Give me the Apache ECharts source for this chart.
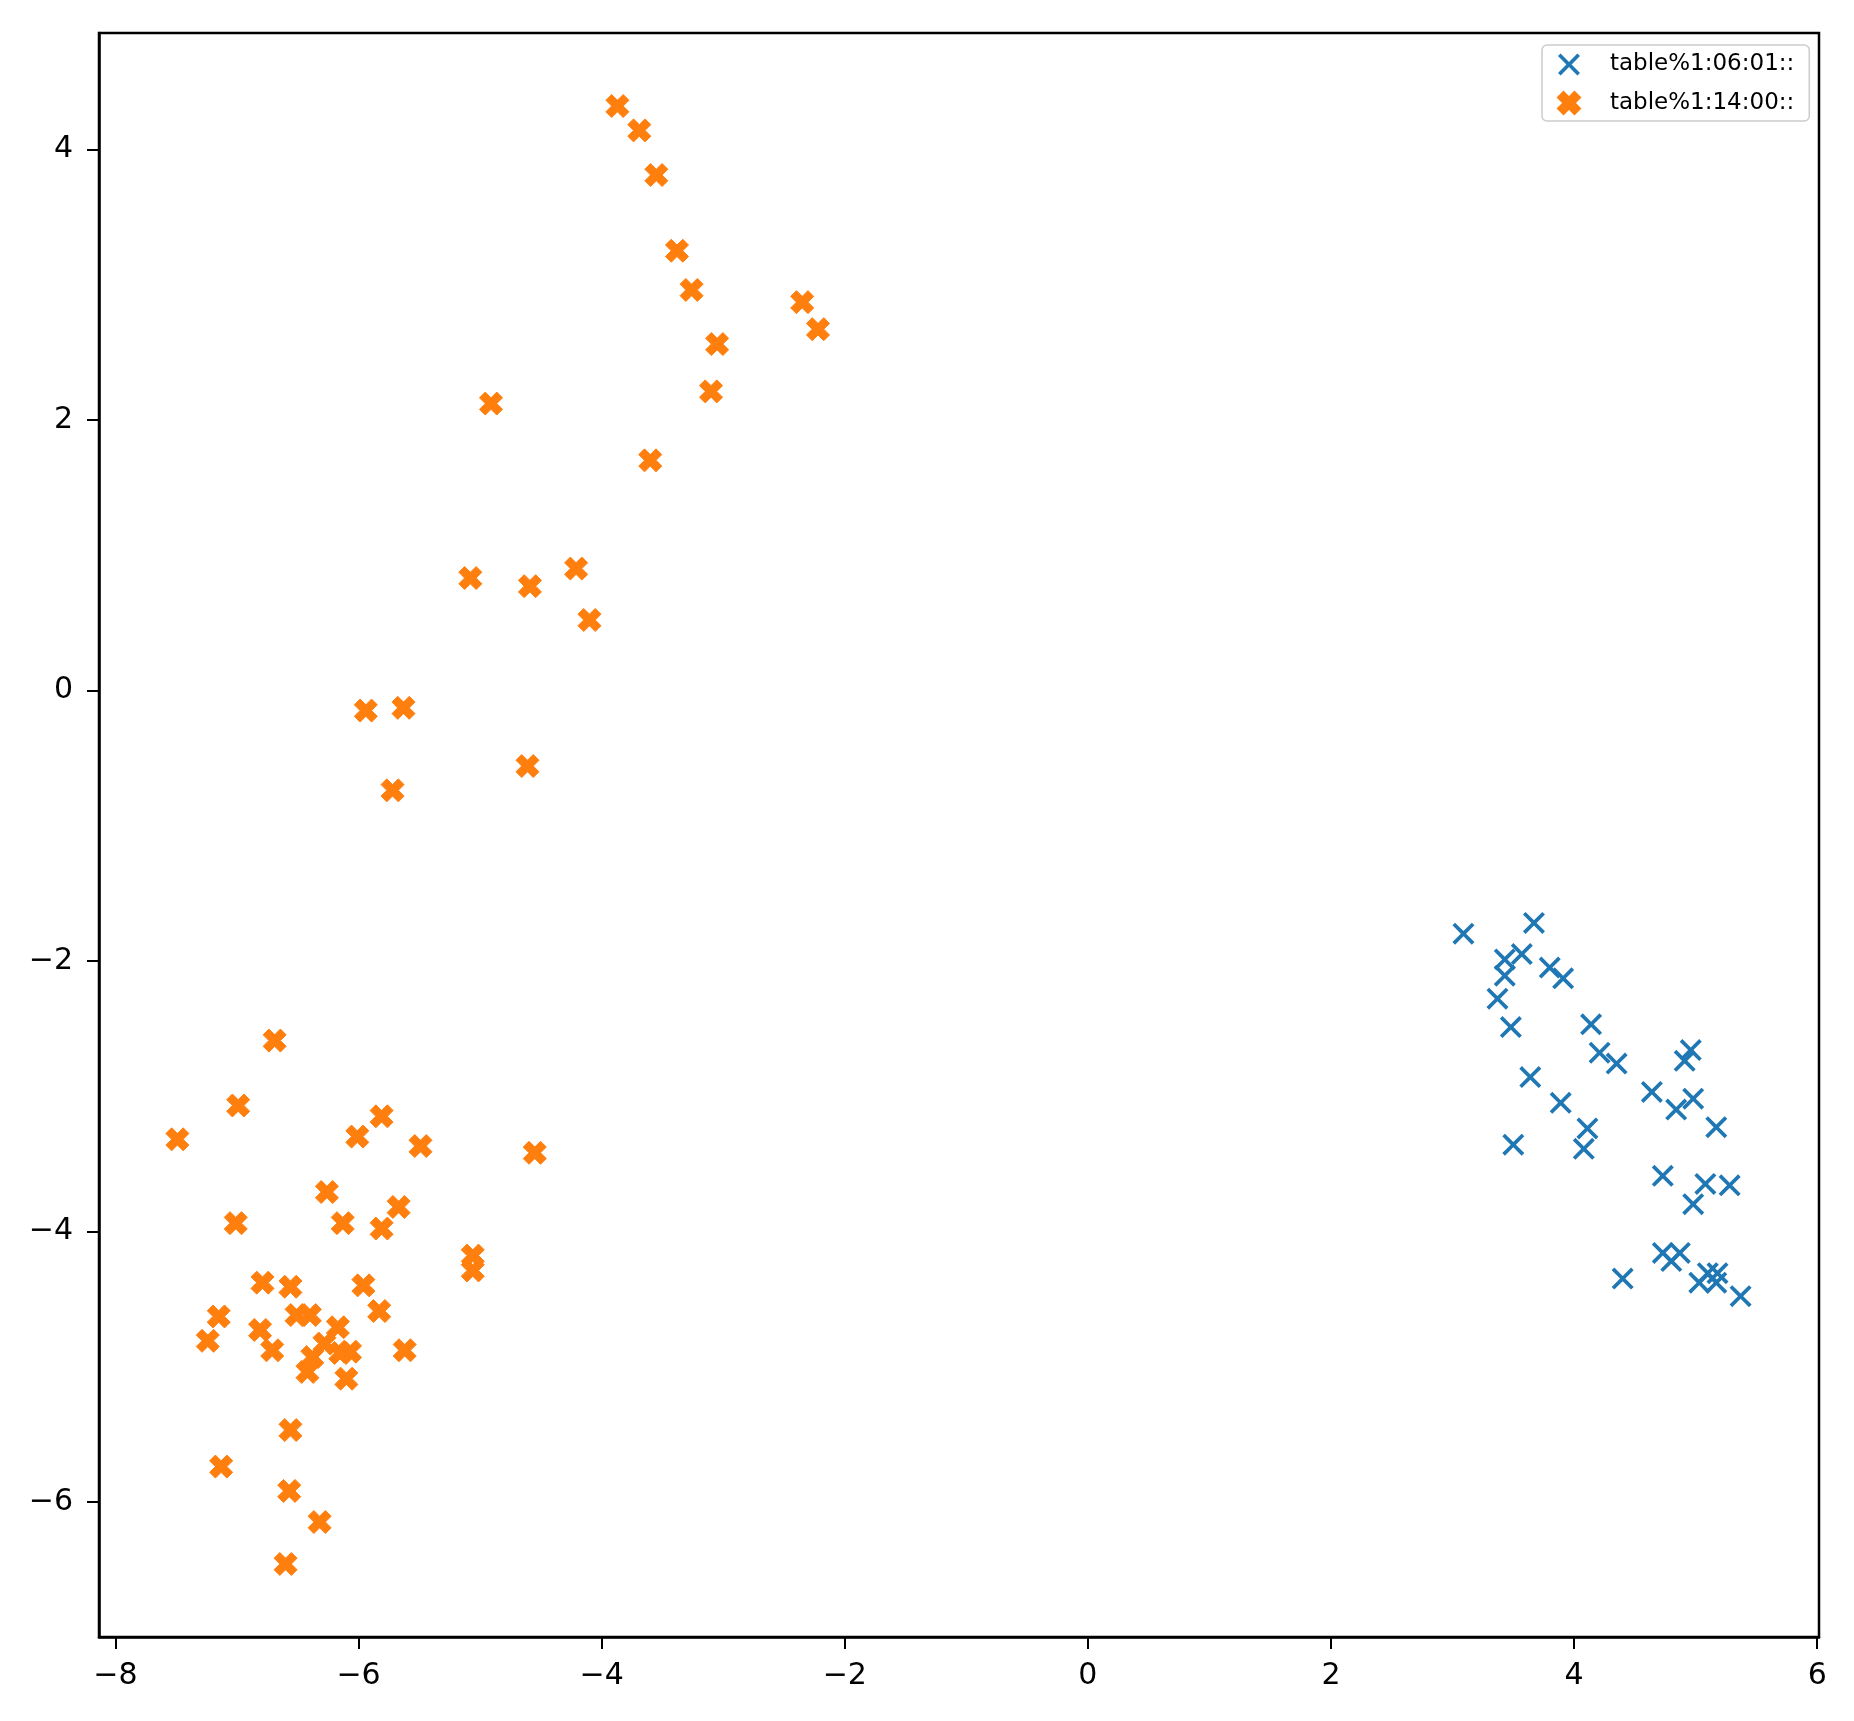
<!DOCTYPE html>
<html>
<head>
<meta charset="utf-8">
<script src="https://cdn.jsdelivr.net/npm/echarts@6/dist/echarts.min.js"></script>
<style>
html,body{margin:0;padding:0;background:#fff;}
#chart{width:1854px;height:1721px;}
</style>
</head>
<body>
<div id="chart"></div>
<script>
const seriesNames = ['table%1:06:01::', 'table%1:14:00::'];
const xTicks = [-8, -6, -4, -2, 0, 2, 4, 6];
const yTicks = [-6, -4, -2, 0, 2, 4];

const blueData = [
  [3.09,-1.80],[3.67,-1.72],[3.43,-1.99],[3.57,-1.95],[3.43,-2.11],[3.80,-2.05],
  [3.91,-2.13],[3.37,-2.28],[3.48,-2.49],[4.14,-2.47],[4.21,-2.68],[4.35,-2.76],
  [4.96,-2.66],[4.91,-2.74],[3.64,-2.86],[3.89,-3.05],[4.64,-2.97],[4.84,-3.10],
  [4.98,-3.02],[5.17,-3.23],[3.50,-3.36],[4.11,-3.24],[4.08,-3.39],[4.73,-3.59],
  [5.08,-3.65],[5.28,-3.66],[4.98,-3.80],[4.73,-4.16],[4.87,-4.16],[4.80,-4.22],
  [4.40,-4.35],[5.03,-4.38],[5.10,-4.31],[5.18,-4.31],[5.17,-4.38],[5.37,-4.48]
];

const orangeData = [
  [-3.87,4.32],[-3.69,4.14],[-3.55,3.81],[-3.38,3.25],[-3.26,2.96],[-2.35,2.87],
  [-2.22,2.67],[-3.05,2.56],[-3.10,2.21],[-4.91,2.12],[-3.60,1.70],[-4.21,0.90],
  [-5.08,0.83],[-4.59,0.77],[-4.10,0.52],[-5.63,-0.13],[-5.94,-0.15],[-4.61,-0.56],
  [-5.72,-0.74],[-6.69,-2.59],[-6.99,-3.07],[-5.81,-3.15],[-7.49,-3.32],[-6.01,-3.30],
  [-5.49,-3.37],[-4.55,-3.42],[-6.26,-3.71],[-7.01,-3.94],[-6.13,-3.94],[-5.67,-3.82],
  [-5.81,-3.98],[-5.06,-4.18],[-5.06,-4.29],[-6.79,-4.38],[-6.56,-4.41],[-5.96,-4.40],
  [-7.15,-4.63],[-6.51,-4.62],[-6.40,-4.62],[-5.83,-4.59],[-6.81,-4.73],[-6.17,-4.71],
  [-7.24,-4.81],[-6.71,-4.88],[-6.28,-4.83],[-6.15,-4.90],[-6.07,-4.89],[-6.38,-4.93],
  [-5.62,-4.88],[-6.42,-5.04],[-6.10,-5.09],[-6.56,-5.47],[-7.13,-5.74],[-6.57,-5.92],
  [-6.32,-6.15],[-6.60,-6.46]
];

const thinX = 'path://M11.9,100L50,61.9L88.1,100L100,88.1L61.9,50L100,11.9L88.1,0L50,38.1L11.9,0L0,11.9L38.1,50L0,88.1Z';
const fatX = 'path://M25,0L50,25L75,0L100,25L75,50L100,75L75,100L50,75L25,100L0,75L25,50L0,25Z';

const fmt = v => String(v).replace('-', '\u2212');
const tickFont = {fontFamily: 'DejaVu Sans', fontSize: 30, color: '#000'};

const chart = echarts.init(document.getElementById('chart'), null, {renderer: 'canvas'});
chart.setOption({
  animation: false,
  backgroundColor: '#fff',
  grid: {left: 99, top: 33, right: 35, bottom: 84, show: true, borderColor: '#000', borderWidth: 2.5, containLabel: false},
  xAxis: {
    type: 'value', min: -8.135, max: 6.015,
    axisLine: {show: true, onZero: false, lineStyle: {color: '#000', width: 2.5}},
    axisTick: {show: true, customValues: xTicks, length: 12, lineStyle: {color: '#000', width: 2}},
    axisLabel: Object.assign({customValues: xTicks, margin: 24, formatter: fmt}, tickFont),
    splitLine: {show: false}
  },
  yAxis: {
    type: 'value', min: -7.0, max: 4.86,
    axisLine: {show: true, onZero: false, lineStyle: {color: '#000', width: 2.5}},
    axisTick: {show: true, customValues: yTicks, length: 12, lineStyle: {color: '#000', width: 2}},
    axisLabel: Object.assign({customValues: yTicks, margin: 26, formatter: fmt}, tickFont),
    splitLine: {show: false}
  },
  legend: {
    orient: 'vertical',
    left: 1542, top: 45,
    padding: [8, 15, 6, 15],
    itemWidth: 30, itemHeight: 22, itemGap: 15,
    backgroundColor: 'rgba(255,255,255,0.8)',
    borderColor: '#cccccc', borderWidth: 1.5, borderRadius: 5,
    textStyle: {fontFamily: 'DejaVu Sans', fontSize: 23, color: '#000', padding: [0, 0, 0, 21]},
    data: seriesNames
  },
  series: [
    {
      name: seriesNames[0], type: 'scatter', symbol: thinX, symbolSize: 22,
      itemStyle: {color: '#1f77b4', opacity: 1},
      data: blueData
    },
    {
      name: seriesNames[1], type: 'scatter', symbol: fatX, symbolSize: 23,
      itemStyle: {color: '#ff7f0e', borderColor: '#ff7f0e', borderWidth: 1, opacity: 1},
      data: orangeData
    }
  ]
});
</script>
</body>
</html>
